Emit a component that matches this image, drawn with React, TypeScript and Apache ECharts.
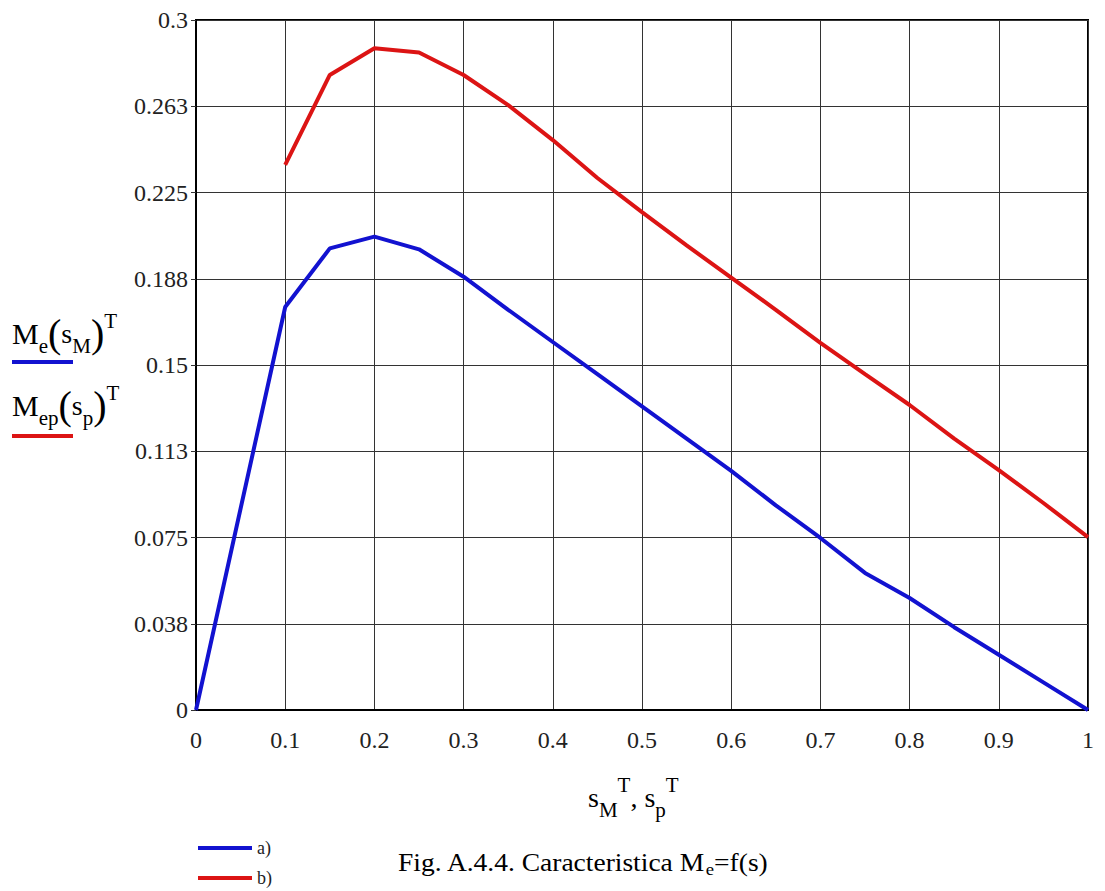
import React, { useEffect, useRef } from "react";
import * as echarts from "echarts";

const xTicks = [0, 0.1, 0.2, 0.3, 0.4, 0.5, 0.6, 0.7, 0.8, 0.9, 1];
const yTickLabels = ["0", "0.038", "0.075", "0.113", "0.15", "0.188", "0.225", "0.263", "0.3"];

const sM = [0, 0.1, 0.15, 0.2, 0.25, 0.3, 0.35, 0.4, 0.45, 0.5, 0.55, 0.6, 0.65, 0.7, 0.75, 0.8, 0.85, 0.9, 0.95, 1];
const Me = [0, 0.1752, 0.2007, 0.2058, 0.2003, 0.1884, 0.174, 0.16, 0.146, 0.132, 0.118, 0.104, 0.089, 0.0748, 0.0596, 0.0487, 0.036, 0.024, 0.012, 0];

const sp = [0.1, 0.15, 0.2, 0.25, 0.3, 0.35, 0.4, 0.45, 0.5, 0.55, 0.6, 0.65, 0.7, 0.75, 0.8, 0.85, 0.9, 0.95, 1];
const Mep = [0.237, 0.2761, 0.2877, 0.2859, 0.2761, 0.263, 0.2478, 0.2313, 0.2165, 0.202, 0.188, 0.174, 0.1596, 0.146, 0.1326, 0.118, 0.1043, 0.09, 0.0752];

const legendNames = ["a)", "b)"];
const BLUE = "#1212d0";
const RED = "#dc1414";

const SERIF = "'Liberation Serif', 'DejaVu Serif', serif";
const TXT = "#222";

export default function App() {
  const ref = useRef<HTMLDivElement>(null);
  useEffect(() => {
    document.body.style.margin = "0";
    const chart = echarts.init(ref.current!, null, { renderer: "svg" });
    const richMath = {
      m: { fontSize: 30, fontFamily: SERIF, color: TXT, lineHeight: 46, verticalAlign: "middle" },
      s: { fontSize: 28, fontFamily: SERIF, color: TXT, lineHeight: 46, verticalAlign: "middle" },
      sub: { fontSize: 21, fontFamily: SERIF, color: TXT, lineHeight: 21, verticalAlign: "bottom" },
      sup: { fontSize: 21, fontFamily: SERIF, color: TXT, lineHeight: 14, verticalAlign: "top" },
      p: { fontSize: 40, fontFamily: SERIF, color: TXT, lineHeight: 46, verticalAlign: "middle" },
    };
    const legendColors = [BLUE, RED];
    const legendGraphics: any[] = [];
    legendNames.forEach((name, i) => {
      const y = 848 + i * 30;
      legendGraphics.push({
        type: "line", shape: { x1: 198, y1: y, x2: 252, y2: y },
        style: { stroke: legendColors[i], lineWidth: 4 },
      });
      legendGraphics.push({
        type: "text", x: 257, y,
        style: { text: name, fontSize: 18, fontFamily: SERIF, fill: TXT, verticalAlign: "middle", align: "left" },
        scaleX: 1,
      });
    });
    const option: any = {
      animation: false,
      backgroundColor: "#fff",
      grid: {
        left: 196, top: 20, width: 892, height: 690,
        show: true, borderColor: "#000", borderWidth: 2, backgroundColor: "transparent",
      },
      xAxis: {
        type: "value", min: 0, max: 1, interval: 0.1,
        axisLine: { show: true, lineStyle: { color: "#000", width: 2 } },
        axisTick: { show: false },
        splitLine: { show: true, lineStyle: { color: "#333", width: 1 } },
        axisLabel: {
          margin: 18, fontSize: 24, fontFamily: SERIF, color: TXT,
          formatter: (v: number) => {
            const i = xTicks.findIndex((t) => Math.abs(t - v) < 1e-6);
            return i >= 0 ? String(xTicks[i]) : "";
          },
        },
      },
      yAxis: {
        type: "value", min: 0, max: 0.3, interval: 0.0375,
        axisLine: { show: true, lineStyle: { color: "#000", width: 2 } },
        axisTick: { show: true, length: 5, lineStyle: { color: "#333" } },
        splitLine: { show: true, lineStyle: { color: "#333", width: 1 } },
        axisLabel: {
          margin: 8, fontSize: 24, fontFamily: SERIF, color: TXT,
          formatter: (v: number) => yTickLabels[Math.round(v / 0.0375)] ?? "",
        },
      },
      series: [
        {
          name: legendNames[0], type: "line", symbol: "none",
          data: sM.map((x, i) => [x, Me[i]]),
          lineStyle: { color: BLUE, width: 4 }, itemStyle: { color: BLUE },
        },
        {
          name: legendNames[1], type: "line", symbol: "none",
          data: sp.map((x, i) => [x, Mep[i]]),
          lineStyle: { color: RED, width: 4 }, itemStyle: { color: RED },
        },
      ],
      graphic: [
        {
          type: "text", left: 12, top: 310,
          style: { text: "{m|M}{sub|e}{p|(}{s|s}{sub|M}{p|)}{sup|T}", rich: richMath },
        },
        { type: "line", shape: { x1: 12, y1: 362, x2: 73, y2: 362 }, style: { stroke: BLUE, lineWidth: 4 } },
        {
          type: "text", left: 12, top: 382,
          style: { text: "{m|M}{sub|ep}{p|(}{s|s}{sub|p}{p|)}{sup|T}", rich: richMath },
        },
        { type: "line", shape: { x1: 12, y1: 436, x2: 73, y2: 436 }, style: { stroke: RED, lineWidth: 4 } },
        {
          type: "text", left: 588, top: 774,
          style: { text: "{s|s}{sub|M}{sup|T}{s|, s}{sub|p}{sup|T}", rich: richMath },
        },
        {
          type: "text", x: 398, y: 848, scaleX: 1.1,
          style: {
            text: "{c|Fig. A.4.4. Caracteristica M}{cs|e}{c|=f(s)}",
            rich: {
              c: { fontSize: 25, fontFamily: SERIF, color: TXT, lineHeight: 30, verticalAlign: "middle" },
              cs: { fontSize: 17, fontFamily: SERIF, color: TXT, lineHeight: 17, verticalAlign: "bottom" },
            },
          },
        },
        ...legendGraphics,
      ],
    };
    chart.setOption(option);
    return () => chart.dispose();
  }, []);
  return <div ref={ref} style={{ width: 1105, height: 891 }} />;
}
